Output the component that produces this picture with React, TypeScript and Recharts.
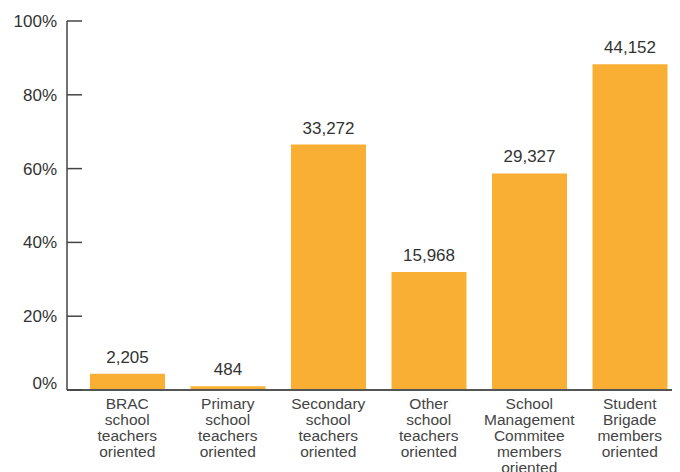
import React from "react";
import { BarChart, Bar, XAxis, YAxis, LabelList } from "recharts";

const categories = [
  "BRAC\nschool\nteachers\noriented",
  "Primary\nschool\nteachers\noriented",
  "Secondary\nschool\nteachers\noriented",
  "Other\nschool\nteachers\noriented",
  "School\nManagement\nCommitee\nmembers\noriented",
  "Student\nBrigade\nmembers\noriented",
];
const percents = [4.4, 1.0, 66.5, 32.0, 58.7, 88.3];
const counts = ["2,205", "484", "33,272", "15,968", "29,327", "44,152"];
const yTicks = [0, 20, 40, 60, 80, 100];

const data = categories.map((c, i) => ({ name: c, pct: percents[i], count: counts[i] }));

const FONT = "'Liberation Sans', Arial, Helvetica, sans-serif";

const YTick = (props: any) => {
  const { x, y, payload } = props;
  const isZero = payload.value === 0;
  return (
    <g>
      <line x1={x + 10} x2={x + 25} y1={y} y2={y} stroke="#444" strokeWidth={1.5} />
      <text
        x={x}
        y={isZero ? y - 7 : y}
        dy={6}
        textAnchor="end"
        fontFamily={FONT}
        fontSize={17}
        fill="#333"
      >
        {payload.value}%
      </text>
    </g>
  );
};

const XTick = (props: any) => {
  const { x, y, payload } = props;
  const lines = String(payload.value).split("\n");
  return (
    <g>
      {lines.map((l, i) => (
        <text
          key={i}
          x={x}
          y={y + 11 + i * 16}
          textAnchor="middle"
          fontFamily={FONT}
          fontSize={15.5}
          fill="#444"
        >
          {l}
        </text>
      ))}
    </g>
  );
};

export default function App() {
  return (
    <div style={{ marginLeft: -8, marginTop: -8, width: 680, height: 472, background: "#fff" }}>
      <BarChart
        width={680}
        height={472}
        data={data}
        margin={{ top: 21, right: 0, bottom: 0, left: 0 }}
        barCategoryGap={0}
      >
        <XAxis
          dataKey="name"
          interval={0}
          tickLine={false}
          axisLine={{ stroke: "#555", strokeWidth: 2 }}
          tick={<XTick />}
          padding={{ left: 10, right: 0 }}
          height={82}
        />
        <YAxis
          domain={[0, 100]}
          ticks={yTicks}
          width={67}
          tickSize={0}
          tickMargin={10}
          tickLine={false}
          axisLine={{ stroke: "#444", strokeWidth: 1.5 }}
          tick={<YTick />}
          interval={0}
        />
        <Bar dataKey="pct" fill="#F9AF33" barSize={75} isAnimationActive={false}>
          <LabelList
            dataKey="count"
            position="top"
            offset={11}
            fontFamily={FONT}
            fontSize={17}
            fill="#333"
          />
        </Bar>
      </BarChart>
    </div>
  );
}
